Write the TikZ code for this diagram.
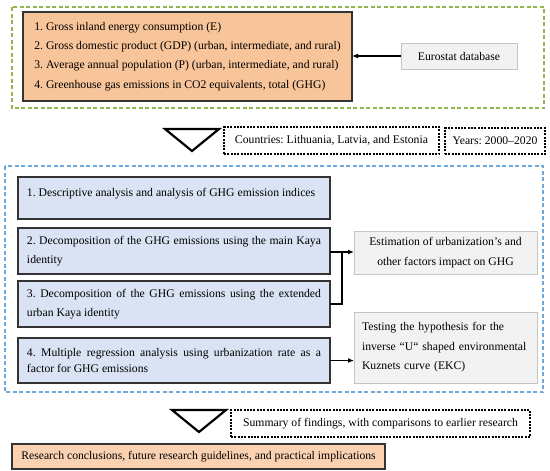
\documentclass[tikz,border=0pt]{standalone}
\usepackage{fontspec}
\setmainfont{Liberation Serif}
\usetikzlibrary{arrows.meta,shadows}
\definecolor{orangefill}{HTML}{F8C59A}
\definecolor{orangelight}{HTML}{FAD2B2}
\definecolor{bluefill}{HTML}{DAE3F3}
\definecolor{greenDash}{HTML}{93B44E}
\definecolor{blueDash}{HTML}{6FA8DC}
\definecolor{boxline}{HTML}{333333}
\definecolor{grayfill}{HTML}{F2F2F2}
\definecolor{grayline}{HTML}{C4C4C4}
\frenchspacing
\begin{document}
\begin{tikzpicture}[x=1pt,y=-1pt,
  every node/.style={font=\fontsize{11.7}{19.4}\selectfont, inner sep=0pt, outer sep=0pt},
  orangebox/.style={draw=boxline, line width=1.3pt, fill=orangefill},
  researchbox/.style={draw=boxline, line width=1.1pt, fill=orangelight},
  bluebox/.style={draw=boxline, line width=1.3pt, fill=bluefill},
  graybox/.style={draw=grayline, line width=0.9pt, fill=grayfill,
    drop shadow={shadow xshift=0.9pt, shadow yshift=-0.9pt, opacity=0.35}},
  dotbox/.style={draw=black, line width=2pt, dash pattern=on 2pt off 1.3pt},
  greenframe/.style={draw=greenDash, line width=1.1pt, dash pattern=on 4pt off 2.5pt},
  blueframe/.style={draw=blueDash, line width=1.1pt, dash pattern=on 4pt off 2.5pt},
  trianglemark/.style={draw=black, line width=2.2pt, fill=white, line join=miter},
  conn/.style={draw=black, line width=1.2pt},
  arr/.style={conn, -{Latex[length=6pt,width=5pt]}}
]
\useasboundingbox (0,0) rectangle (550,471);

% top data frame
\draw[greenframe] (12,7) rectangle (544,108);
\node[orangebox, minimum width=329pt, minimum height=89pt, align=left] (data) at (187.5,56.5)
  {1. Gross inland energy consumption (E)\\
   2. Gross domestic product (GDP) (urban, intermediate, and rural)\\
   3. Average annual population (P) (urban, intermediate, and rural)\\
   4. Greenhouse gas emissions in CO2 equivalents, total (GHG)};
\node[graybox, minimum width=116pt, minimum height=26pt] (euro) at (459,56) {Eurostat database};
\draw[arr] (euro.west) -- (euro.west -| data.east);

% first triangle and scope boxes
\draw[trianglemark] (165,129) -- (219,129) -- (192,151) -- cycle;
\node[dotbox, minimum width=215pt, minimum height=27pt] (countries) at (331.5,140.5)
  {\raisebox{-2pt}{Countries: Lithuania, Latvia, and Estonia}};
\node[dotbox, minimum width=100pt, minimum height=26pt] (years) at (495,141) {Years: 2000–2020};

% analysis frame
\draw[blueframe] (5,166) rectangle (543,392);
\node[bluebox, minimum width=312pt, minimum height=42pt] (b1) at (174,198) {};
\node[anchor=base west] (t1) at (27,196) {1. Descriptive analysis and analysis of GHG emission indices};
\node[bluebox, text width=294pt, inner xsep=9pt, minimum height=46pt, align=justify] (b2) at (174,251)
  {2. Decomposition of the GHG emissions using the main Kaya\linebreak identity};
\node[bluebox, text width=294pt, inner xsep=9pt, minimum height=46pt, align=justify] (b3) at (174,304)
  {3. Decomposition of the GHG emissions using the extended\linebreak urban Kaya identity};
\node[bluebox, text width=294pt, inner xsep=9pt, minimum height=45pt, align=justify,
  font=\fontsize{11.7}{16}\selectfont] (b4) at (174,360.5)
  {4. Multiple regression analysis using urbanization rate as a\linebreak factor for GHG emissions};

\node[graybox, minimum width=183pt, minimum height=43pt, align=center] (est) at (445.5,252.5)
  {Estimation of urbanization’s and\\other factors impact on GHG};
\node[graybox, text width=167pt, inner xsep=8pt, minimum height=71pt, align=left] (test) at (445.5,347.5)
  {Testing the hypothesis for the\\inverse “U“ shaped environmental\\Kuznets curve (EKC)};

\coordinate (j) at (342,252);
\draw[conn] (b2.east |- j) -- (j);
\draw[conn] (b3.east) -| (j);
\draw[arr] (j) -- (j -| est.west);
\draw[arr] (b4.east) -- (b4.east -| test.west);

% bottom
\draw[trianglemark] (172,410) -- (226,410) -- (199,432) -- cycle;
\node[dotbox, minimum width=299pt, minimum height=27pt] (summary) at (380.5,423.5)
  {Summary of findings, with comparisons to earlier research};
\node[researchbox, minimum width=373pt, minimum height=25pt] (research) at (198.5,456.5)
  {Research conclusions, future research guidelines, and practical implications};
\end{tikzpicture}
\end{document}
